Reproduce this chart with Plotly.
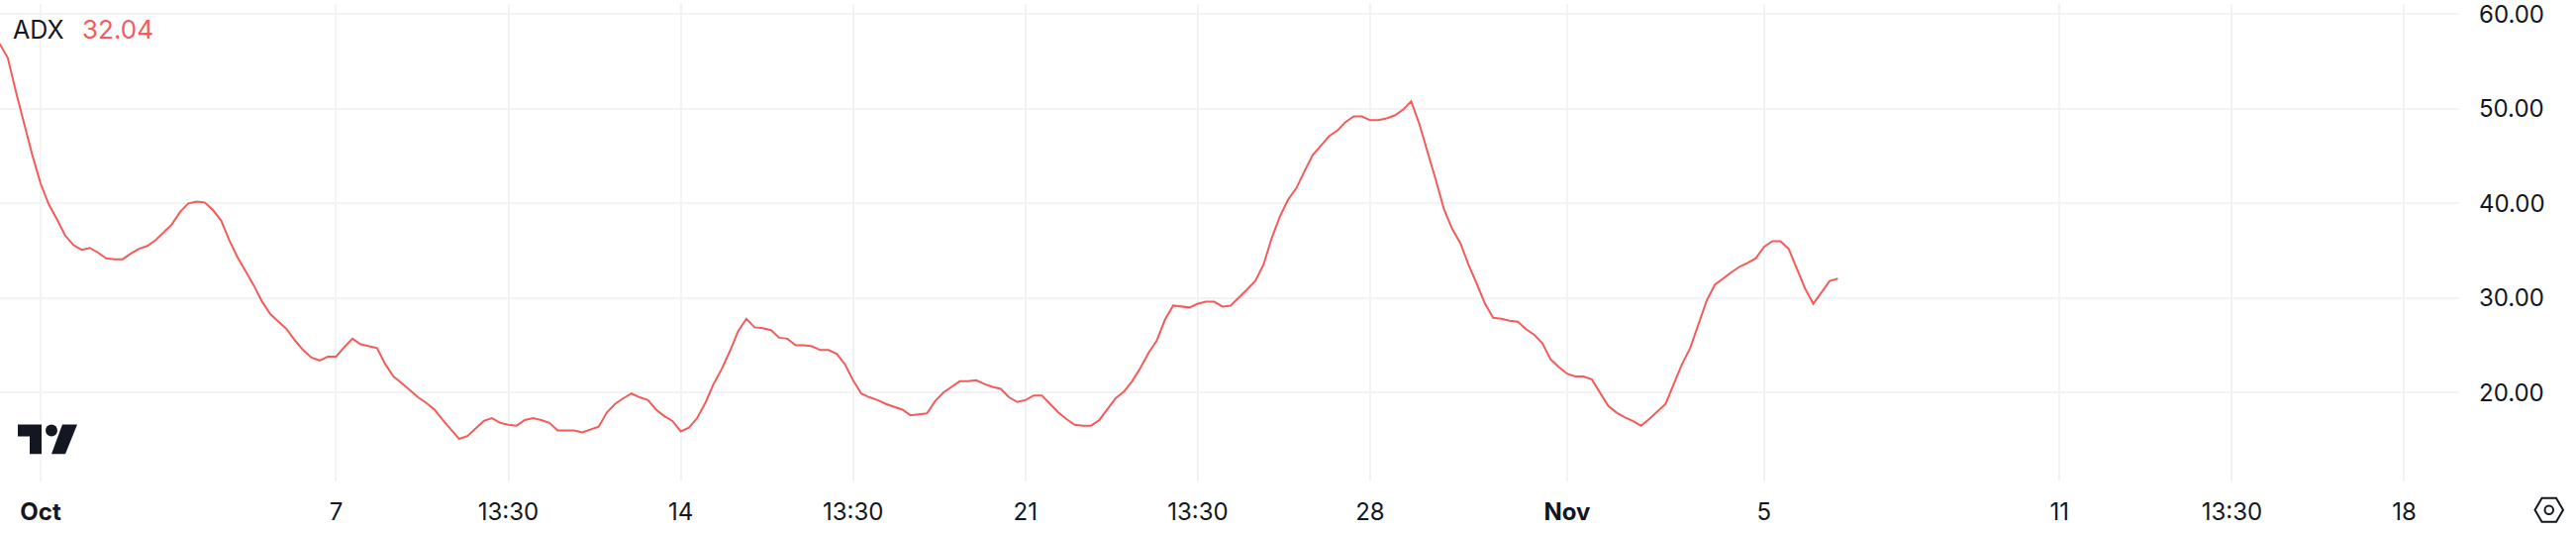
import pandas as pd
import plotly.graph_objects as go

W, H = 2602, 538
PLOT_R, PLOT_B = 2484, 486

first_bar = "2024-09-30 04:00"
bar_hours = 4

adx_values = [
    56.9, 55.4, 51.8, 48.3, 45.1, 42.1, 39.9, 38.3, 36.6, 35.6, 35.1, 35.3, 34.8, 34.2, 34.1, 34.1,
    34.7, 35.2, 35.5, 36.1, 37.0, 37.8, 39.1, 40.0, 40.2, 40.1, 39.3, 38.2, 36.1, 34.3, 32.8, 31.3,
    29.6, 28.3, 27.5, 26.7, 25.5, 24.5, 23.7, 23.4, 23.8, 23.8, 24.8, 25.7, 25.1, 24.9, 24.7, 23.0,
    21.7, 21.0, 20.2, 19.5, 18.9, 18.2, 17.1, 16.1, 15.1, 15.4, 16.2, 17.0, 17.3, 16.8, 16.6, 16.5,
    17.1, 17.3, 17.1, 16.8, 16.0, 16.0, 16.0, 15.8, 16.1, 16.4, 17.9, 18.8, 19.4, 19.9, 19.5, 19.2,
    18.2, 17.5, 17.0, 15.9, 16.3, 17.3, 18.9, 20.9, 22.5, 24.4, 26.5, 27.8, 26.9, 26.8, 26.6, 25.8,
    25.7, 25.0, 25.0, 24.9, 24.5, 24.5, 24.1, 23.0, 21.3, 19.9, 19.5, 19.2, 18.8, 18.5, 18.2, 17.6,
    17.7, 17.8, 19.1, 20.0, 20.6, 21.2, 21.2, 21.3, 20.9, 20.6, 20.4, 19.5, 19.0, 19.2, 19.7, 19.7,
    18.8, 17.9, 17.2, 16.6, 16.5, 16.5, 17.1, 18.2, 19.4, 20.1, 21.2, 22.6, 24.2, 25.5, 27.7, 29.2,
    29.1, 29.0, 29.4, 29.6, 29.6, 29.1, 29.2, 30.0, 30.9, 31.8, 33.5, 36.3, 38.6, 40.4, 41.6, 43.4,
    45.1, 46.1, 47.1, 47.7, 48.6, 49.2, 49.2, 48.8, 48.8, 49.0, 49.3, 49.9, 50.8, 48.4, 45.5, 42.5,
    39.4, 37.3, 35.8, 33.5, 31.5, 29.4, 27.9, 27.8, 27.6, 27.5, 26.7, 26.1, 25.2, 23.5, 22.7, 22.0,
    21.7, 21.7, 21.4, 20.0, 18.6, 17.9, 17.4, 17.0, 16.5, 17.2, 18.0, 18.8, 20.9, 23.0, 24.7, 27.3,
    29.7, 31.4, 32.1, 32.7, 33.3, 33.7, 34.2, 35.4, 36.0, 36.0, 35.2, 33.0, 31.0, 29.4, 30.6, 31.8,
    32.04,
]

x_tick_dates = ["2024-10-01", "2024-10-07", "2024-10-10 12:00", "2024-10-14", "2024-10-17 12:00",
                "2024-10-21", "2024-10-24 12:00", "2024-10-28", "2024-11-01", "2024-11-05",
                "2024-11-11", "2024-11-14 12:00", "2024-11-18"]
x_tick_labels = ["<b>Oct</b>", "7", "13:30", "14", "13:30", "21", "13:30", "28", "<b>Nov</b>", "5",
                 "11", "13:30", "18"]
y_ticks = [20, 30, 40, 50, 60]
y_tick_labels = ["20.00", "30.00", "40.00", "50.00", "60.00"]
y_range = [10.60, 61.09]
x_range = ["2024-09-30 04:13", "2024-11-19 02:48"]

series_name = "ADX"
series_last = "32.04"
RED = "#f45b5b"
INK = "#131722"
GRID = "#f2f3f5"
FONT = "Inter"

times = pd.date_range(first_bar, periods=len(adx_values), freq=f"{bar_hours}h")


def px(x):
    return x / PLOT_R


def py(y):
    return 1 - y / PLOT_B


def poly(points, **kw):
    d = "M " + " L ".join(f"{px(a):.5f},{py(b):.5f}" for a, b in points) + " Z"
    return dict(type="path", xref="paper", yref="paper", path=d, **kw)


fig = go.Figure(go.Scatter(x=times, y=adx_values, mode="lines", name=series_name,
                           line=dict(color=RED, width=2), hoverinfo="skip"))

shapes = [
    dict(type="rect", xref="paper", yref="paper", x0=px(8), x1=px(84), y0=py(423), y1=py(463),
         fillcolor="white", line_width=0),
    poly([(18, 428), (42, 428), (42, 458), (30, 458), (30, 440), (18, 440)], fillcolor=INK, line_width=0),
    poly([(63, 428), (78, 428), (66, 458), (52, 458)], fillcolor=INK, line_width=0),
    dict(type="circle", xref="paper", yref="paper", x0=px(46), x1=px(58), y0=py(440), y1=py(428),
         fillcolor=INK, line_width=0),
    poly([(2560.5, 515), (2567.5, 503), (2582, 503), (2589, 515), (2582, 527), (2567.5, 527)],
         fillcolor="white", line=dict(color=INK, width=2)),
    dict(type="circle", xref="paper", yref="paper", x0=px(2570.5), x1=px(2579), y0=py(519.3), y1=py(510.7),
         fillcolor="white", line=dict(color=INK, width=2)),
]

annotations = [
    dict(text=series_name, x=px(11), y=py(26), xref="paper", yref="paper", xanchor="left", yanchor="middle",
         showarrow=False, font=dict(family=FONT, size=25, color=INK)),
    dict(text=series_last, x=px(81), y=py(26), xref="paper", yref="paper", xanchor="left", yanchor="middle",
         showarrow=False, font=dict(family=FONT, size=26, color=RED)),
]

fig.update_layout(
    width=W, height=H, autosize=False,
    margin=dict(l=0, r=W - PLOT_R, t=0, b=H - PLOT_B, pad=0),
    paper_bgcolor="white", plot_bgcolor="white", showlegend=False,
    font=dict(family=FONT, color=INK, size=24),
    shapes=shapes, annotations=annotations,
    xaxis=dict(type="date", range=x_range, tickmode="array", tickvals=x_tick_dates, ticktext=x_tick_labels,
               showgrid=True, gridcolor=GRID, gridwidth=2, zeroline=False, showline=False, ticks="",
               ticklabelstandoff=14, tickangle=0, ticklabeloverflow="allow",
               tickfont=dict(family=FONT, size=24, color=INK)),
    yaxis=dict(side="right", range=y_range, tickmode="array", tickvals=y_ticks, ticktext=y_tick_labels,
               showgrid=True, gridcolor=GRID, gridwidth=2, zeroline=False, showline=False, ticks="",
               ticklabelstandoff=19, ticklabeloverflow="allow",
               tickfont=dict(family=FONT, size=24, color=INK)),
)

fig.write_html("out.html", config=dict(displayModeBar=False),
               post_script="document.body.style.margin='0';document.body.style.overflow='hidden';")
